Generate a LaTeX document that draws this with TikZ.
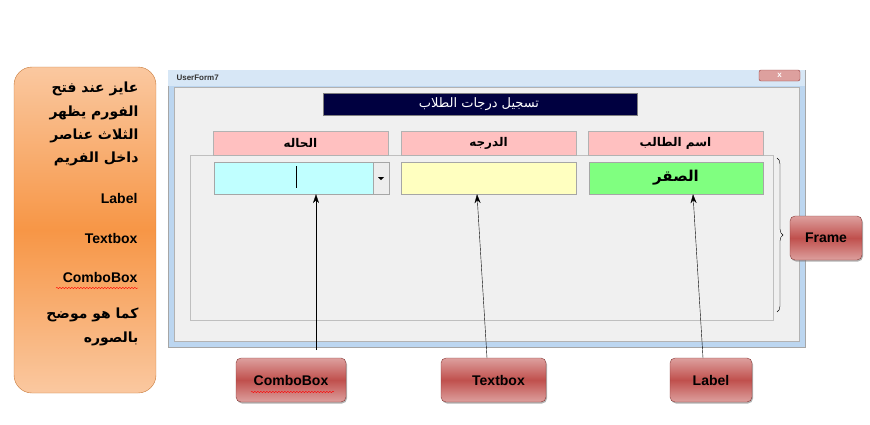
\documentclass[tikz,border=0pt]{standalone}
\usepackage{fontspec}
\setmainfont{Liberation Sans}
\newfontfamily\arabicfont[Script=Arabic]{DejaVu Sans}
\TeXXeTstate=1
\usetikzlibrary{decorations.pathreplacing,decorations.pathmorphing,shadows,arrows.meta}
\newcommand{\ar}[1]{{\arabicfont\beginR #1\endR}}
\definecolor{orng}{HTML}{F79646}
\definecolor{orngl}{HTML}{FAC8A0}
\definecolor{redb}{HTML}{C0504D}
\definecolor{redl}{HTML}{DDA09E}
\definecolor{winb}{HTML}{BCD6F0}
\definecolor{pinkl}{HTML}{FFC0C0}
\tikzset{
  callout/.style={draw=redb!70!black,rounded corners=5pt,top color=redl,bottom color=redl,middle color=redb,
     drop shadow={shadow xshift=1pt,shadow yshift=-1.5pt,opacity=.6},font=\bfseries\fontsize{14}{16}\selectfont,inner sep=0pt},
  hdr/.style={draw=gray!60,fill=pinkl,font=\bfseries\fontsize{12}{14}\selectfont,inner sep=0pt},
  ctl/.style={draw=gray!70,inner sep=0pt},
  pt/.style={-{Stealth[length=9pt,width=6pt]},thin},
  side/.style={font=\bfseries\fontsize{14}{16}\selectfont,anchor=east},
  wavy/.style={red,decorate,decoration={snake,amplitude=.7pt,segment length=3pt}},
}
\begin{document}
\begin{tikzpicture}[x=1pt,y=-1pt]
\useasboundingbox (0,0) rectangle (870,424);
% left box
\draw[orng!80!black,rounded corners=18pt,top color=orngl,bottom color=orngl,middle color=orng] (14,67) rectangle (156,393);
\node[side] (t1) at (142,89) {\ar{عايز عند فتح}};
\node[side] (t2) at (142,113) {\ar{الفورم يظهر}};
\node[side] (t3) at (142,136) {\ar{الثلاث عناصر}};
\node[side] (t4) at (142,159) {\ar{داخل الفريم}};
\node[side] (t5) at (141,198) {Label};
\node[side] (t6) at (141,238) {Textbox};
\node[side] (t7) at (141,277) {ComboBox};
\draw[wavy] (56,288) -- (138,288);
\node[side] (t8) at (142,315) {\ar{كما هو موضح}};
\node[side] (t9) at (142,339) {\ar{بالصوره}};
% window
\draw[gray!70,fill=winb] (168,70) rectangle (805,347);
\fill[winb!60!white] (168,70) rectangle (805,86);
\node[anchor=west,font=\bfseries\fontsize{8}{9}\selectfont,text=black!80] (ttl) at (173,78) {UserForm7};
\draw[redb!80!black,rounded corners=2pt,fill=redl] (759,70) rectangle (800,81);
\node[font=\fontsize{8}{8}\selectfont\bfseries,text=white] (x) at (779.5,75) {x};
\draw[gray!60,fill=white!94!black] (174,87) rectangle (799,341);
\draw[gray!50] (190,155) rectangle (773,320);
% title
\node[draw=gray,fill={rgb,255:red,0;green,0;blue,64},minimum width=314pt,minimum height=22pt,inner sep=0pt] (title) at (480,104) {};
\node[text=white,font=\fontsize{13}{14}\selectfont] (tt) at (479,104) {\ar{تسجيل درجات الطلاب}};
% headers
\node[hdr,minimum width=175pt,minimum height=24pt] (h1) at (300.5,143) {\ar{الحاله}};
\node[hdr,minimum width=175pt,minimum height=24pt] (h2) at (488.5,143) {\ar{الدرجه}};
\node[hdr,minimum width=175pt,minimum height=24pt] (h3) at (675.5,143) {\ar{اسم الطالب}};
% controls
\node[ctl,fill={rgb,255:red,192;green,255;blue,255},minimum width=159pt,minimum height=32pt] (cb) at (293.5,178) {};
\node[ctl,fill=white!93!black,minimum width=16pt,minimum height=32pt] (dd) at (381,178) {};
\fill (378,177) -- (384,177) -- (381,180) -- cycle;
\draw[thick] (296,166) -- (296,188);
\node[ctl,fill={rgb,255:red,255;green,255;blue,192},minimum width=175pt,minimum height=32pt] (tb) at (488.5,178) {};
\node[ctl,fill={rgb,255:red,128;green,255;blue,128},minimum width=174pt,minimum height=32pt,font=\bfseries\fontsize{15}{16}\selectfont] (lb) at (676,178) {\ar{الصقر}};
% brace
\draw[decorate,decoration={brace,amplitude=6pt}] (777,158) -- (777,312);
% callouts
\node[callout,minimum width=110pt,minimum height=44pt] (c1) at (291,380) {ComboBox};
\draw[wavy] (251,392) -- (334,392);
\node[callout,minimum width=105pt,minimum height=44pt] (c2) at (493.5,380) {\hspace*{10pt}Textbox};
\node[callout,minimum width=82pt,minimum height=44pt] (c3) at (711,380) {Label};
\node[callout,minimum width=72pt,minimum height=44pt] (c4) at (826,238) {Frame};
\coordinate (s1) at (316,350);
\coordinate (s2) at (487,358);
\coordinate (s3) at (703,358);
\draw[pt] (s1) -- (cb.south -| 316,0);
\draw[pt] (s2) -- (tb.south -| 477,0);
\draw[pt] (s3) -- (lb.south -| 693,0);
\end{tikzpicture}
\end{document}
